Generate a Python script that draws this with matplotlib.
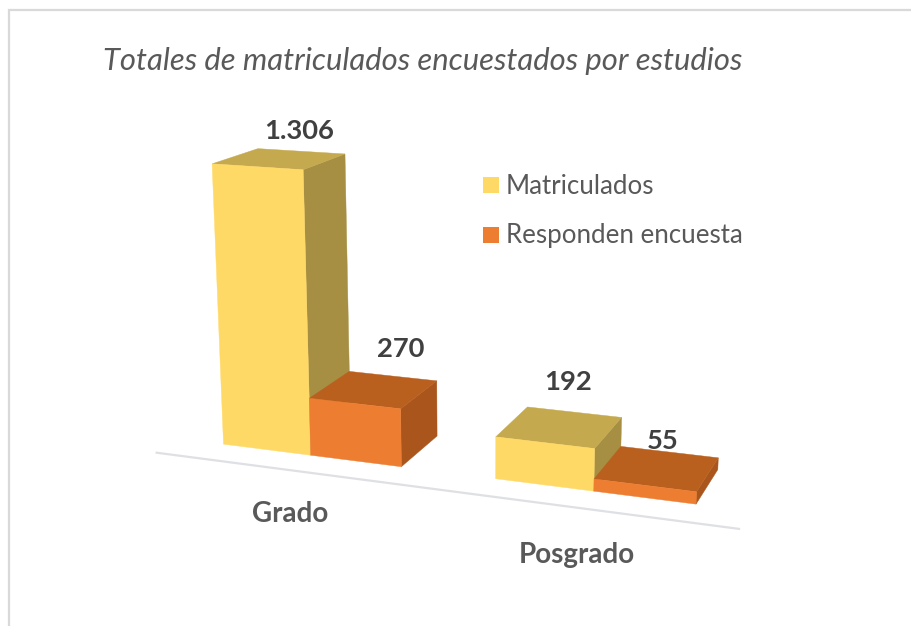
import numpy as np
import matplotlib
matplotlib.use("Agg")
import matplotlib.pyplot as plt
from matplotlib.patches import Polygon, Rectangle

# Datos
estudios = ["Grado", "Posgrado"]
matriculados = [1306, 192]
responden = [270, 55]
etiq_matriculados = ["1.306", "192"]
etiq_responden = ["270", "55"]
series = ["Matriculados", "Responden encuesta"]

plt.rcParams["font.family"] = ["Lato", "DejaVu Sans"]

# Perspectiva del grafico 3D: (posicion, fondo, valor en miles) -> pixel
P = np.array([[81.3106, 57.2118, -15.8559, 223.5035],
              [2.4421, -6.7603, -220.1491, 444.1472],
              [-0.018956, 0.05223, -0.033612, 1.0]])

def pr(u, v, z):
    h = P @ np.array([u, v, z / 1000, 1])
    return h[0] / h[2], h[1] / h[2]

fig = plt.figure(figsize=(9.12, 6.26), dpi=100)
ax = fig.add_axes([0, 0, 1, 1])
ax.set_xlim(0, 912)
ax.set_ylim(626, 0)
ax.axis("off")

# Marco (solo se ve arriba y a la izquierda)
ax.plot([9, 9, 912], [626, 9.5, 9.5], color="#D9D9D9", lw=1.6, solid_joinstyle="miter")

# Linea base
xb, yb = zip(pr(-0.52, -0.47, 0), pr(5.5, -0.47, 0))
ax.plot(xb, yb, color="#DFE0E4", lw=1.6)

def barra(u, z, cf, ct, cs):
    ax.add_patch(Polygon([pr(u+1,0,0), pr(u+1,1,0), pr(u+1,1,z), pr(u+1,0,z)], fc=cs, ec=cs, lw=0.3))
    ax.add_patch(Polygon([pr(u,0,z), pr(u+1,0,z), pr(u+1,1,z), pr(u,1,z)], fc=ct, ec=ct, lw=0.3))
    ax.add_patch(Polygon([pr(u,0,0), pr(u+1,0,0), pr(u+1,0,z), pr(u,0,z)], fc=cf, ec=cf, lw=0.3))

for i in range(2):
    barra(i*3, matriculados[i], "#FFD966", "#C4A94F", "#A68F42")
    barra(i*3+1, responden[i], "#ED7D31", "#B9601F", "#A9551C")

# Textos
ax.text(103, 61, "Totales de matriculados encuestados por estudios", fontsize=22.3, style="italic",
        color="#595959", ha="left", va="center")

pos_m = [(299.5, 131), (568, 382)]
pos_r = [(401, 349), (663, 441)]
for i in range(2):
    ax.text(*pos_m[i], etiq_matriculados[i], fontsize=19.7, fontweight="bold", color="#404040", ha="center", va="center")
    ax.text(*pos_r[i], etiq_responden[i], fontsize=19.7, fontweight="bold", color="#404040", ha="center", va="center")

pos_cat = [(290, 514), (577, 555)]
for i in range(2):
    ax.text(*pos_cat[i], estudios[i], fontsize=20, fontweight="bold", color="#595959", ha="center", va="center")

# Leyenda
cols = ["#FFD966", "#ED7D31"]
ys = [185, 235]
for i in range(2):
    ax.add_patch(Rectangle((483, ys[i]-8), 16, 16, fc=cols[i], ec="none"))
    ax.text(506, ys[i]+1, series[i], fontsize=18.6, color="#595959", ha="left", va="center")

plt.savefig("out.png", dpi=100)
